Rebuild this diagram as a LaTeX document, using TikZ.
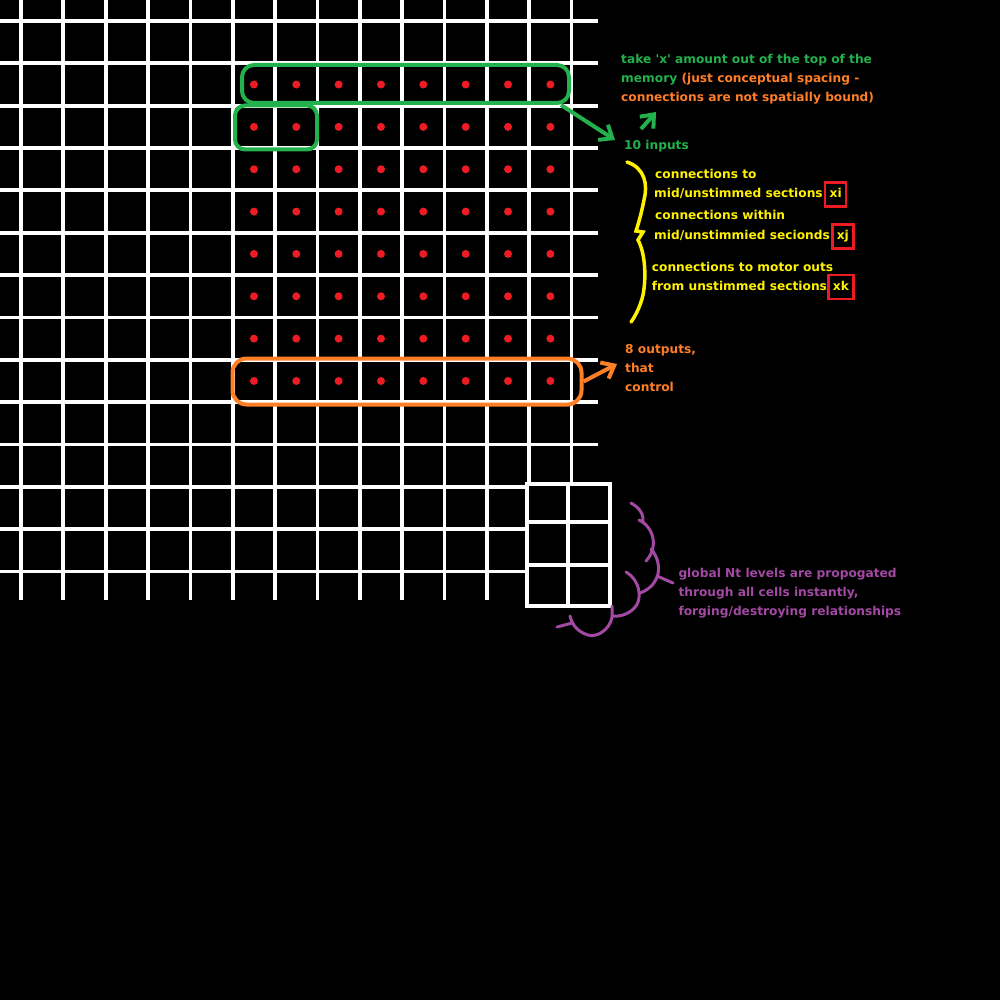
\documentclass[tikz,border=0pt]{standalone}
\usepackage{fontspec}
\setmainfont{DejaVu Sans}
\usetikzlibrary{positioning}
\usetikzlibrary{calc}
\usetikzlibrary{arrows.meta}
\definecolor{input colour}{HTML}{22B14C}
\definecolor{output colour}{HTML}{FF7F27}
\definecolor{link colour}{HTML}{FFF200}
\definecolor{cell colour}{HTML}{ED1C24}
\definecolor{nt colour}{HTML}{A349A4}
\tikzset{
    % Lines of the memory grid
    grid line/.style={draw=white, line width=3.8pt},
    cell/.style={fill=cell colour},
%
    % Hand drawn rings round a group of cells
    ring/.style={rectangle, draw=#1, line width=4pt, rounded corners=12pt},
    % Text lines, placed by their baseline
    note/.style={anchor=base west, inner sep=0pt,
        font=\fontsize{12.2}{14}\selectfont\bfseries},
    tag/.style={note, draw=cell colour, line width=2.5pt, text=link colour,
        text height=9pt, text depth=3pt, inner xsep=4.5pt, inner ysep=6pt},
    % Lines
    hand arrow/.style={draw=#1, line width=4pt,
        -{Straight Barb[length=11pt, width=18pt]}},
    scribble/.style={draw=#1, line width=3pt, line cap=round},
}

\begin{document}
\begin{tikzpicture}[x=1pt, y=-1pt]

\fill[black] (0,0) rectangle (1000,1000);
\useasboundingbox (0,0) rectangle (1000,1000);

% the memory
\foreach \k in {0,...,13} {
    \draw[grid line] ({21+42.35*\k},0) -- ++(0,600);
    \draw[grid line] (0,{21+42.35*\k}) -- ++(598,0);
}
\fill[black] (526,483) rectangle (611,607);
\draw[grid line] (527,484) rectangle (610,606);
\draw[grid line] (568,484) -- (568,606);
\draw[grid line] (527,522) -- (610,522) (527,565) -- (610,565);

\foreach \col in {5,...,12}
    \foreach \row in {1,...,8}
        \fill[cell] ({21+42.35*(\col+0.5)},{21+42.35*(\row+0.5)}) circle (4);

% inputs and outputs
\node (top-row) [ring=input colour, minimum width=327, minimum height=38]
    at (405.5,84) {};
\node (first-pair) [ring=input colour, rounded corners=10pt,
    minimum width=82, minimum height=44] at (276,127.5) {};
\node (output-row) [ring=output colour, rounded corners=14pt,
    minimum width=349, minimum height=46] at (407,381.5) {};

\path
    (621,63.3) node (take) [note, text=input colour]
        {take \textquotesingle x\textquotesingle\ amount out of the top of the}
    (621,82.5) node (memory) [note, text=input colour]
        {memory \textcolor{output colour}{(just conceptual spacing -}}
    (621,101.7) node (bound) [note, text=output colour]
        {connections are not spatially bound)}
    (624,149.3) node (inputs) [note, text=input colour] {10 inputs};

\path
    (655,179) node (conn-to) [note, text=link colour] {connections to}
    (654,197.3) node (mid-i) [note, text=link colour] {mid/unstimmed sections}
    (655,219.3) node (conn-within) [note, text=link colour] {connections within}
    (654,239.3) node (mid-j) [note, text=link colour] {mid/unstimmied secionds}
    (651.7,271) node (conn-motor) [note, text=link colour]
        {connections to motor outs}
    (651.7,290) node (from-k) [note, text=link colour] {from unstimmed sections};
\node (xi) [tag] at ([xshift=1pt]mid-i.base east) {xi};
\node (xj) [tag] at ([xshift=1pt]mid-j.base east) {xj};
\node (xk) [tag] at ([xshift=0pt]from-k.base east) {xk};

\path
    (625,353.3) node (eight) [note, text=output colour] {8 outputs,}
    (625,372.3) node (that) [note, text=output colour] {that}
    (625,391.7) node (control) [note, text=output colour] {control};

\path
    (678.3,577.3) node (global) [note, text=nt colour]
        {global Nt levels are propogated}
    (678.3,596) node (through) [note, text=nt colour]
        {through all cells instantly,}
    (678.3,615) node (forging) [note, text=nt colour]
        {forging/destroying relationships};

\coordinate (inputs-tip) at (615,140);
\coordinate (up-foot) at (641,129);
\coordinate (up-tip) at (656,112);
\coordinate (outputs-tip) at (617,364);

\draw[hand arrow=input colour] ([xshift=-10pt]top-row.south east) -- (inputs-tip);
\draw[hand arrow=input colour] (up-foot) -- (up-tip);
\draw[hand arrow=output colour] (output-row.east) -- (outputs-tip);

% brace
\draw[scribble=link colour, line width=3.5pt]
    (627,162) .. controls (645,168) and (648,185) .. (644,200)
    .. controls (641,215) and (638,225) .. (636,231) -- (643,232) -- (638,240)
    .. controls (646,255) and (646,280) .. (643,295)
    .. controls (640,308) and (634,318) .. (631,322);

% Nt cloud
\draw[scribble=nt colour] (631,503) .. controls (640,508) and (644,515) .. (643,522);
\draw[scribble=nt colour] (639,520) .. controls (655,528) and (658,548) .. (646,561);
\draw[scribble=nt colour] (651,549) .. controls (659,558) and (660,570) .. (657,577)
    .. controls (654,585) and (648,590) .. (640,593);
\draw[scribble=nt colour] (657,576) -- (673,583);
\draw[scribble=nt colour] (626,572) .. controls (640,580) and (642,598) .. (636,606)
    .. controls (630,614) and (620,617) .. (612,616);
\draw[scribble=nt colour] (612,606) -- (612,617)
    .. controls (610,630) and (596,638) .. (588,635)
    .. controls (578,632) and (572,625) .. (570,616);
\draw[scribble=nt colour] (572,623) -- (557,627);

\end{tikzpicture}
\end{document}
